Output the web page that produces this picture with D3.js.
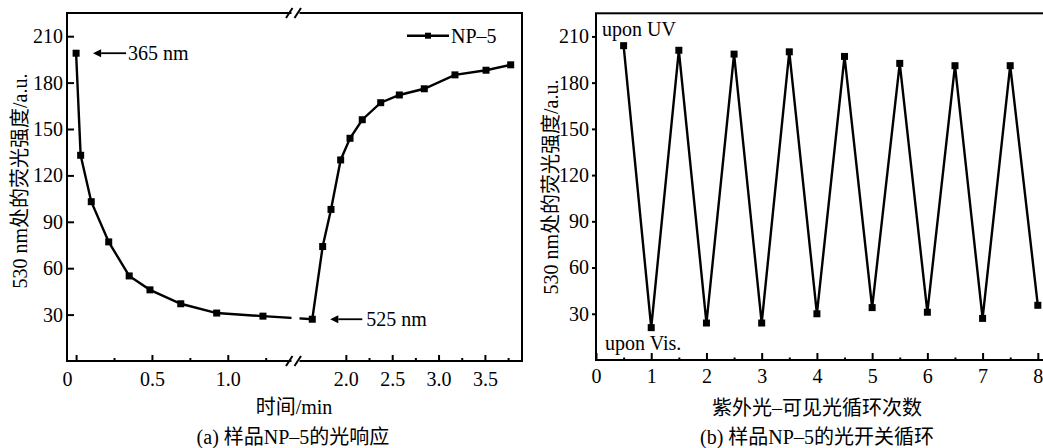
<!DOCTYPE html>
<html><head><meta charset="utf-8">
<script src="https://cdn.jsdelivr.net/npm/d3@7"></script>
<style>
body{margin:0;background:#fff;}
svg text{font-family:"Liberation Serif","Noto Sans CJK SC",serif;fill:#000;}
</style></head>
<body><svg id="c" width="1043" height="448"></svg>
<script>
// ---- data ----
const timeA = [0, 0.03, 0.10, 0.215, 0.35, 0.487, 0.69, 0.927, 1.232, 1.638, 1.75, 1.84, 1.944, 2.045, 2.177, 2.376, 2.577, 2.846, 3.177, 3.512, 3.778];
const intensityA = [199, 133, 103, 77, 55, 46, 37, 31, 29, 27, 74, 98, 130, 144, 156, 167, 172, 176, 185, 188, 191.5];
const cycleB = [0.5, 1, 1.5, 2, 2.5, 3, 3.5, 4, 4.5, 5, 5.5, 6, 6.5, 7, 7.5, 8];
const intensityB = [204, 21, 201, 24, 198.5, 24, 200, 30, 197, 34, 192.5, 31, 191, 27, 191, 35.5];
const yTicks = [30, 60, 90, 120, 150, 180, 210];
const xTicksA = [0, 0.5, 1.0, 2.0, 2.5, 3.0, 3.5];
const xMinorA = [0.25, 0.75, 1.25, 2.25, 2.75, 3.25, 3.75];
const xTicksB = [1, 2, 3, 4, 5, 6, 7, 8];
const xMinorB = [0.5, 1.5, 2.5, 3.5, 4.5, 5.5, 6.5, 7.5];
const seriesName = "NP\u20135";
const yTitle = "530 nm处的荧光强度/a.u.";
const xTitleA = "时间/min";
const xTitleB = "紫外光\u2013可见光循环次数";
const capA = "(a) 样品NP\u20135的光响应";
const capB = "(b) 样品NP\u20135的光开关循环";

const svg = d3.select("#c");
const FS = 20;

// ---- panel A ----
const A = {l:67, r:522, t:13, b:361};
const xA = d3.scaleLinear().domain([-0.06, 1.43, 3.9]).range([A.l, 293, A.r]);
const yA = d3.scaleLinear().domain([0, 225]).range([A.b, A.t]);

const gA = svg.append("g");
// line
gA.append("path").datum(timeA.map((t,i)=>[t,intensityA[i]]))
  .attr("fill","none").attr("stroke","#000").attr("stroke-width",2.4)
  .attr("d", d3.line().x(d=>xA(d[0])).y(d=>yA(d[1])));
gA.selectAll("rect.m").data(timeA).join("rect").attr("class","m")
  .attr("x",(d)=>xA(d)-3.5).attr("y",(d,i)=>yA(intensityA[i])-3.5)
  .attr("width",7).attr("height",7).attr("fill","#000");

// break gap
gA.append("rect").attr("x",291.5).attr("y",0).attr("width",8).attr("height",A.b+6).attr("fill","#fff");

// frame
gA.append("rect").attr("x",A.l).attr("y",A.t).attr("width",A.r-A.l).attr("height",A.b-A.t)
  .attr("fill","none").attr("stroke","#000").attr("stroke-width",2);
// re-open gap in frame
gA.append("rect").attr("x",291.5).attr("y",A.t-3).attr("width",8).attr("height",6).attr("fill","#fff");
gA.append("rect").attr("x",291.5).attr("y",A.b-3).attr("width",8).attr("height",6).attr("fill","#fff");
// break slashes
[A.t, A.b].forEach(yy=>{
  [289, 297.5].forEach(xx=>{
    gA.append("line").attr("x1",xx-3).attr("y1",yy+5).attr("x2",xx+3.5).attr("y2",yy-5)
      .attr("stroke","#000").attr("stroke-width",2);
  });
});

// axes
const axYA = gA.append("g").attr("transform",`translate(${A.l},0)`)
  .call(d3.axisLeft(yA).tickValues(yTicks).tickSize(-7).tickPadding(4).tickFormat(d3.format("d")));
const axXA = gA.append("g").attr("transform",`translate(0,${A.b})`)
  .call(d3.axisBottom(xA).tickValues(xTicksA).tickSize(-6).tickPadding(11)
    .tickFormat(d=> d===0 ? "0" : d3.format(".1f")(d)));
const axXAm = gA.append("g").attr("transform",`translate(0,${A.b})`)
  .call(d3.axisBottom(xA).tickValues(xMinorA).tickSize(-3).tickFormat(""));
axXA.selectAll(".tick").filter(d=>d===0).select("text").attr("dx",-9);

// legend
const lg = gA.append("g");
lg.append("line").attr("x1",407).attr("x2",449).attr("y1",35.7).attr("y2",35.7).attr("stroke","#000").attr("stroke-width",2.4);
lg.append("rect").attr("x",428-3).attr("y",35.7-3).attr("width",6).attr("height",6).attr("fill","#000");
lg.append("text").attr("x",451).attr("y",43).attr("font-size",FS).text(seriesName);

// annotations
svg.append("defs").append("marker").attr("id","ah").attr("viewBox","0 0 10 10")
  .attr("refX",0).attr("refY",5).attr("markerWidth",5).attr("markerHeight",4.5)
  .attr("orient","auto-start-reverse")
  .append("path").attr("d","M0,0 L10,5 L0,10 Z").attr("fill","#000");
function arrow(x1, x2, y){
  svg.append("line").attr("x1",x1).attr("y1",y).attr("x2",x2+9).attr("y2",y)
    .attr("stroke","#000").attr("stroke-width",1.8).attr("marker-end","url(#ah)");
}
// arrow endpoints anchored to first / switching data points
const yUV = yA(intensityA[0]), xUV = xA(timeA[0]);
arrow(xUV+50, xUV+16, yUV);
svg.append("text").attr("x",xUV+52).attr("y",yUV+6.5).attr("font-size",FS).text("365 nm");
const yVis = yA(intensityA[9]), xVis = xA(timeA[9]);
arrow(xVis+50, xVis+17, yVis);
svg.append("text").attr("x",xVis+54).attr("y",yVis+7).attr("font-size",FS).text("525 nm");

// titles
svg.append("text").attr("x",294).attr("y",414).attr("text-anchor","middle").attr("font-size",FS).text(xTitleA);
svg.append("text").attr("x",293).attr("y",444).attr("text-anchor","middle").attr("font-size",FS).text(capA);
svg.append("text").attr("transform","translate(27,181) rotate(-90)").attr("text-anchor","middle").attr("font-size",FS).text(yTitle);

// ---- panel B ----
const B = {l:596, r:1045, t:13.3, b:360};
const xB = d3.scaleLinear().domain([0, 8.13]).range([B.l, B.r]);
const yB = d3.scaleLinear().domain([0, 225]).range([B.b, B.t]);
const gB = svg.append("g");
gB.append("path").datum(cycleB.map((c,i)=>[c,intensityB[i]]))
  .attr("fill","none").attr("stroke","#000").attr("stroke-width",2.4)
  .attr("d", d3.line().x(d=>xB(d[0])).y(d=>yB(d[1])));
gB.selectAll("rect.m").data(cycleB).join("rect").attr("class","m")
  .attr("x",d=>xB(d)-3.5).attr("y",(d,i)=>yB(intensityB[i])-3.5)
  .attr("width",7).attr("height",7).attr("fill","#000");
gB.append("rect").attr("x",B.l).attr("y",B.t).attr("width",B.r-B.l).attr("height",B.b-B.t)
  .attr("fill","none").attr("stroke","#000").attr("stroke-width",2);
gB.append("g").attr("transform",`translate(${B.l},0)`)
  .call(d3.axisLeft(yB).tickValues(yTicks).tickSize(4).tickPadding(3).tickFormat(d3.format("d")));
const axXB = gB.append("g").attr("transform",`translate(0,${B.b})`)
  .call(d3.axisBottom(xB).tickValues([0].concat(xTicksB)).tickSize(-7).tickPadding(9).tickFormat(d3.format("d")));
gB.append("g").attr("transform",`translate(0,${B.b})`)
  .call(d3.axisBottom(xB).tickValues(xMinorB).tickSize(-2.5).tickFormat(""));
gB.append("text").attr("x",602).attr("y",36).attr("font-size",FS).text("upon UV");
gB.append("text").attr("x",605).attr("y",350).attr("font-size",FS).text("upon Vis.");
svg.append("text").attr("x",817).attr("y",415).attr("text-anchor","middle").attr("font-size",FS).text(xTitleB);
svg.append("text").attr("x",817).attr("y",444).attr("text-anchor","middle").attr("font-size",FS).text(capB);
svg.append("text").attr("transform","translate(558,187) rotate(-90)").attr("text-anchor","middle").attr("font-size",FS).text(yTitle);

// axis styling
svg.selectAll(".domain").remove();
svg.selectAll(".tick line").attr("stroke","#000").attr("stroke-width",2);
svg.selectAll(".tick text").attr("font-size",FS).attr("font-family","'Liberation Serif',serif").attr("fill","#000");
</script>
</body></html>
